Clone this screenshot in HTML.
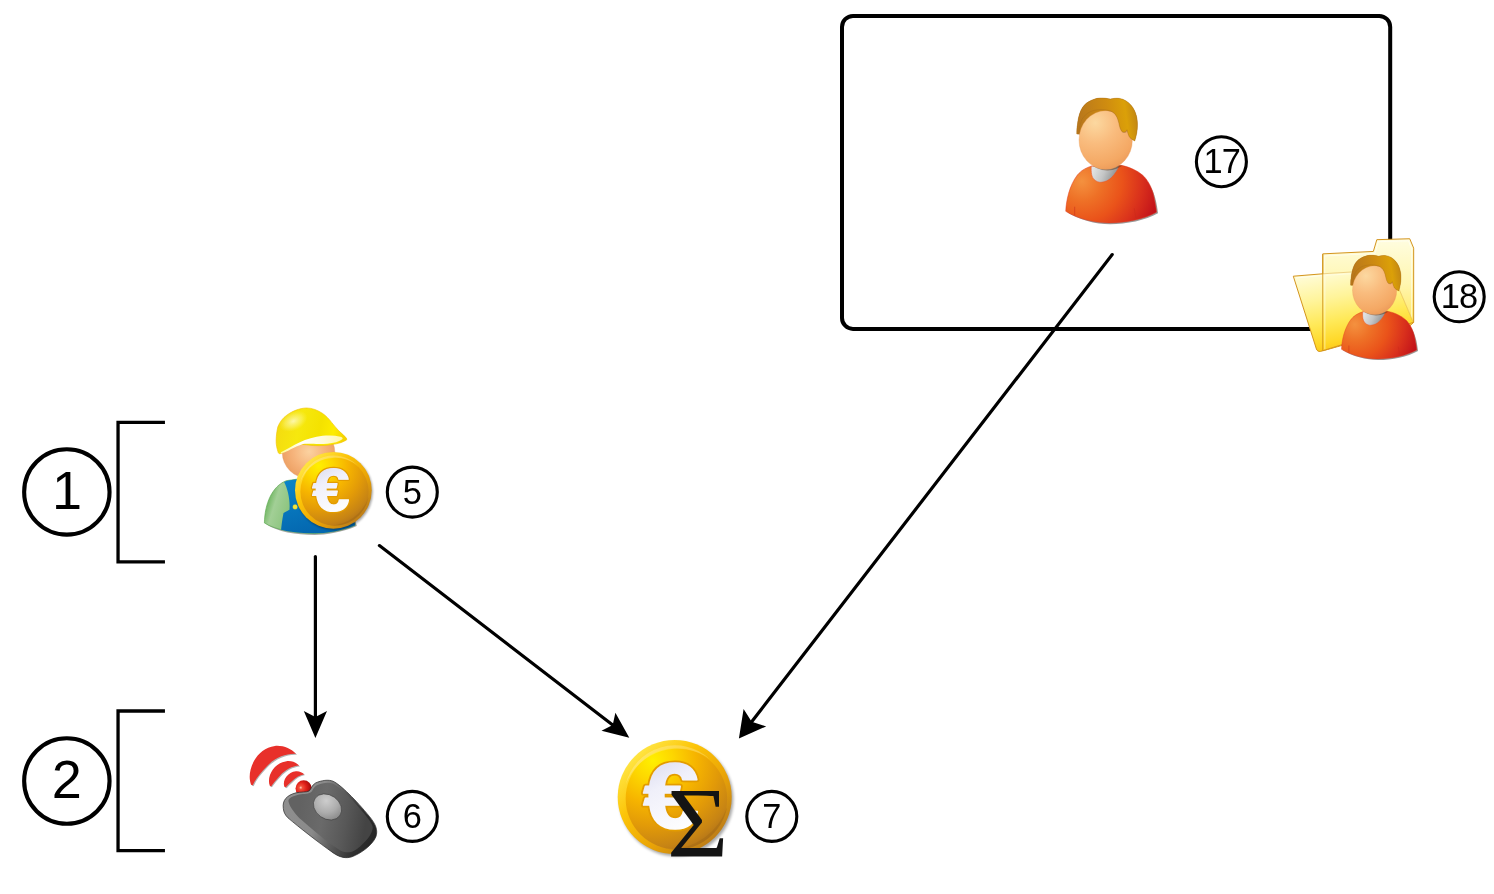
<!DOCTYPE html>
<html>
<head>
<meta charset="utf-8">
<title>Diagram</title>
<style>
html,body{margin:0;padding:0;background:#fff;}
body{width:1494px;height:894px;overflow:hidden;font-family:"Liberation Sans",sans-serif;}
svg{display:block;position:absolute;left:0;top:0;will-change:transform;}
.ln{fill:none;stroke:#000;stroke-width:3.2;stroke-linecap:round;}
.br{fill:none;stroke:#000;stroke-width:3.3;stroke-linecap:square;stroke-linejoin:miter;}
.cb{fill:none;stroke:#000;stroke-width:4.1;}
.cs{fill:none;stroke:#000;stroke-width:3.1;}
.tb{font-family:"Liberation Sans",sans-serif;font-size:54px;fill:#000;text-anchor:middle;}
.ts{font-family:"Liberation Sans",sans-serif;font-size:34.4px;fill:#000;text-anchor:middle;}
</style>
</head>
<body>
<svg width="1494" height="894" viewBox="0 0 1494 894">
<defs>
<filter id="sh2" x="-30%" y="-30%" width="160%" height="160%"><feGaussianBlur stdDeviation="5"/></filter>
<filter id="b3" x="-30%" y="-30%" width="160%" height="160%"><feGaussianBlur stdDeviation="3"/></filter>
<!-- user -->
<radialGradient id="uBody" gradientUnits="userSpaceOnUse" cx="190" cy="574" r="480">
<stop offset="0" stop-color="#f4913f"/><stop offset="0.25" stop-color="#ee7026"/><stop offset="0.5" stop-color="#ea531a"/><stop offset="0.75" stop-color="#d9301c"/><stop offset="1" stop-color="#bf0e1a"/></radialGradient>
<radialGradient id="uFace" gradientUnits="userSpaceOnUse" cx="270" cy="225" r="310">
<stop offset="0" stop-color="#fcd8a0"/><stop offset="0.4" stop-color="#f9bc7e"/><stop offset="0.8" stop-color="#f4a864"/><stop offset="1" stop-color="#ea9656"/></radialGradient>
<linearGradient id="uHair" gradientUnits="userSpaceOnUse" x1="170" y1="200" x2="520" y2="150">
<stop offset="0" stop-color="#b8771c"/><stop offset="0.5" stop-color="#cf8c10"/><stop offset="0.8" stop-color="#dba008"/><stop offset="1" stop-color="#c08414"/></linearGradient>
<linearGradient id="uCol" gradientUnits="userSpaceOnUse" x1="255" y1="500" x2="400" y2="560">
<stop offset="0" stop-color="#e2e4e4"/><stop offset="0.45" stop-color="#c4c6c6"/><stop offset="1" stop-color="#858787"/></linearGradient>
<clipPath id="uBodyClip"><path d="M94,753 C96,690 115,600 163,537 C190,505 220,492 246,484 L425,479 C480,490 530,515 563,548 C595,585 610,625 617,654 C627,700 633,735 635,758 C560,800 450,822 350,822 C260,822 160,795 94,753 Z"/></clipPath>
<clipPath id="uFaceClip"><ellipse cx="329" cy="323" rx="159" ry="175"/></clipPath>
<g id="user">
<path d="M104,760 C170,802 270,830 358,830 C458,830 568,808 644,765 C636,700 626,650 596,600 L300,600 Z" fill="#000" opacity="0.4" filter="url(#b3)"/>
<path d="M94,753 C96,690 115,600 163,537 C190,505 220,492 246,484 L425,479 C480,490 530,515 563,548 C595,585 610,625 617,654 C627,700 633,735 635,758 C560,800 450,822 350,822 C260,822 160,795 94,753 Z" fill="url(#uBody)" stroke="#e0381c" stroke-width="3"/>
<path d="M147,726 L147,778 M502,734 L512,793" stroke="#c62a18" stroke-width="3.5" fill="none" opacity="0.85"/>
<path d="M246,484 C244,520 248,548 262,562 C276,576 290,580 304,580 C330,578 350,568 366,552 C388,530 402,508 414,482 Z" fill="url(#uCol)" stroke="#e8502a" stroke-width="3"/>
<g clip-path="url(#uBodyClip)"><ellipse cx="342" cy="338" rx="160" ry="172" fill="#5a2a08" opacity="0.45" filter="url(#b3)"/></g>
<path d="M160,292 C160,262 161,250 163,243 C166,210 172,180 184,152 C196,126 212,110 232,99 C252,88 274,79 297,78 C322,77 342,80 360,84 C378,79 396,78 414,80 C440,84 464,98 483,120 C496,136 505,152 510,168 C518,190 522,215 521,243 C521,270 516,300 505,334 L440,300 L200,300 Z" fill="url(#uHair)"/>
<ellipse cx="332" cy="328" rx="159" ry="175" fill="url(#uFace)" stroke="#e89a58" stroke-width="2"/>
<path d="M160,292 C160,262 161,250 163,243 C166,210 172,180 184,152 C196,126 212,110 232,99 C252,88 274,79 297,78 C322,77 342,80 360,84 C378,79 396,78 414,80 C440,84 464,98 483,120 C496,136 505,152 510,168 C518,190 522,215 521,243 C521,270 516,300 505,334 L499,329 C485,322 476,314 472,307 C466,295 462,280 459,267 C455,274 451,279 446,280 C438,282 431,280 427,275 C420,265 416,254 414,243 C410,222 405,205 398,190 C390,174 378,161 361,155 C340,148 318,146 297,147 C277,148 259,151 243,158 C220,168 202,184 190,206 C180,228 174,258 171,291 Z" transform="translate(3,5)" fill="#7a4a10" opacity="0.3" filter="url(#b3)" clip-path="url(#uFaceClip)"/>
<path d="M160,292 C160,262 161,250 163,243 C166,210 172,180 184,152 C196,126 212,110 232,99 C252,88 274,79 297,78 C322,77 342,80 360,84 C378,79 396,78 414,80 C440,84 464,98 483,120 C496,136 505,152 510,168 C518,190 522,215 521,243 C521,270 516,300 505,334 L499,329 C485,322 476,314 472,307 C466,295 462,280 459,267 C455,274 451,279 446,280 C438,282 431,280 427,275 C420,265 416,254 414,243 C410,222 405,205 398,190 C390,174 378,161 361,155 C340,148 318,146 297,147 C277,148 259,151 243,158 C220,168 202,184 190,206 C180,228 174,258 171,291 Z" fill="url(#uHair)" stroke="#a86c18" stroke-width="2.5" stroke-linejoin="round"/>
</g>
<!-- folder -->
<linearGradient id="fBack" gradientUnits="userSpaceOnUse" x1="0" y1="60" x2="0" y2="800">
<stop offset="0" stop-color="#fffde0"/><stop offset="0.4" stop-color="#fff6b0"/><stop offset="0.75" stop-color="#ffe760"/><stop offset="1" stop-color="#fcd430"/></linearGradient>
<linearGradient id="fFront" gradientUnits="userSpaceOnUse" x1="300" y1="290" x2="400" y2="800">
<stop offset="0" stop-color="#fffbd0"/><stop offset="0.3" stop-color="#fff49a"/><stop offset="0.6" stop-color="#ffe958"/><stop offset="0.85" stop-color="#ffd828"/><stop offset="1" stop-color="#fbc412"/></linearGradient>
<!-- coin -->
<linearGradient id="cRim" gradientUnits="userSpaceOnUse" x1="-70" y1="-70" x2="70" y2="75">
<stop offset="0" stop-color="#ffe440"/><stop offset="0.3" stop-color="#fcc408"/><stop offset="0.65" stop-color="#eaa406"/><stop offset="1" stop-color="#bd7d18"/></linearGradient>
<radialGradient id="cFace" gradientUnits="userSpaceOnUse" cx="-38" cy="-64" r="180">
<stop offset="0" stop-color="#fff000"/><stop offset="0.2" stop-color="#fdd600"/><stop offset="0.42" stop-color="#f6b400"/><stop offset="0.64" stop-color="#e29a08"/><stop offset="0.84" stop-color="#c78414"/><stop offset="1" stop-color="#a66a1e"/></radialGradient>
<linearGradient id="cEuro" gradientUnits="userSpaceOnUse" x1="-40" y1="-60" x2="30" y2="60">
<stop offset="0" stop-color="#dcdcf0"/><stop offset="0.35" stop-color="#f0f0fa"/><stop offset="1" stop-color="#ffffff"/></linearGradient>
<g id="coin">
<circle cx="3" cy="4" r="100" fill="#000" opacity="0.35" filter="url(#b3)"/>
<circle cx="0" cy="0" r="100" fill="url(#cRim)"/>
<circle cx="3" cy="3" r="89" fill="url(#cFace)"/>
<path d="M-86,-22 A89,89 0 0 1 62,-66 A97,97 0 0 0 -86,-22 Z" fill="#fff" opacity="0.22"/>
<path d="M92,18 A92,92 0 0 1 -10,92 A110,110 0 0 0 92,18 Z" fill="#9a6410" opacity="0.35"/>
<g transform="translate(-6.5,0) scale(1.09,1)">
<text x="0" y="53.5" font-family="'Liberation Sans',sans-serif" font-weight="bold" font-size="161" text-anchor="middle" fill="#e39c00" stroke="#e39c00" stroke-width="9" stroke-linejoin="round">€</text>
<text x="0" y="53.5" font-family="'Liberation Sans',sans-serif" font-weight="bold" font-size="161" text-anchor="middle" fill="url(#cEuro)" stroke="url(#cEuro)" stroke-width="3" stroke-linejoin="round">€</text>
</g>
</g>
<!-- worker -->
<linearGradient id="wHelm" gradientUnits="userSpaceOnUse" x1="150" y1="150" x2="580" y2="250">
<stop offset="0" stop-color="#f4dc10"/><stop offset="0.3" stop-color="#f6e80e"/><stop offset="0.6" stop-color="#f4e200"/><stop offset="0.8" stop-color="#fdec00"/><stop offset="1" stop-color="#f3d000"/></linearGradient>
<radialGradient id="wFace" gradientUnits="userSpaceOnUse" cx="345" cy="330" r="200">
<stop offset="0" stop-color="#fbd2a0"/><stop offset="0.5" stop-color="#f6b47c"/><stop offset="1" stop-color="#ea9a5c"/></radialGradient>
<linearGradient id="wGreen" gradientUnits="userSpaceOnUse" x1="60" y1="650" x2="220" y2="700">
<stop offset="0" stop-color="#5fae50"/><stop offset="0.4" stop-color="#a2cf96"/><stop offset="1" stop-color="#8cc47e"/></linearGradient>
<linearGradient id="wBlue" gradientUnits="userSpaceOnUse" x1="200" y1="520" x2="300" y2="850">
<stop offset="0" stop-color="#0a84c8"/><stop offset="1" stop-color="#0468b0"/></linearGradient>
<clipPath id="wBodyClip"><path d="M60,785 C62,660 110,550 200,515 L380,490 C480,500 600,600 640,800 C560,835 450,852 380,852 C260,852 130,830 60,785 Z"/></clipPath>
<!-- remote -->
<linearGradient id="rBody" gradientUnits="userSpaceOnUse" x1="400" y1="560" x2="860" y2="640">
<stop offset="0" stop-color="#626262"/><stop offset="0.35" stop-color="#6a6a6a"/><stop offset="0.7" stop-color="#585858"/><stop offset="1" stop-color="#444444"/></linearGradient>
<linearGradient id="rSide" gradientUnits="userSpaceOnUse" x1="330" y1="560" x2="930" y2="720">
<stop offset="0" stop-color="#8e8e8e"/><stop offset="0.3" stop-color="#8a8a8a"/><stop offset="0.55" stop-color="#5a5a5a"/><stop offset="0.8" stop-color="#303030"/><stop offset="1" stop-color="#262626"/></linearGradient>
<radialGradient id="rBtn" gradientUnits="userSpaceOnUse" cx="570" cy="465" r="150">
<stop offset="0" stop-color="#cdcdcd"/><stop offset="0.55" stop-color="#adadad"/><stop offset="1" stop-color="#858585"/></radialGradient>
<radialGradient id="rLed" gradientUnits="userSpaceOnUse" cx="418" cy="362" r="75">
<stop offset="0" stop-color="#ffd0c0"/><stop offset="0.15" stop-color="#f2503a"/><stop offset="0.5" stop-color="#e0201a"/><stop offset="1" stop-color="#9c0808"/></radialGradient>
<radialGradient id="wHl" cx="0.5" cy="0.5" r="0.5"><stop offset="0" stop-color="#fffde0" stop-opacity="0.75"/><stop offset="0.6" stop-color="#fffbb0" stop-opacity="0.35"/><stop offset="1" stop-color="#fff880" stop-opacity="0"/></radialGradient>
<linearGradient id="wBrim" gradientUnits="userSpaceOnUse" x1="170" y1="300" x2="560" y2="240"><stop offset="0" stop-color="#fff9a0"/><stop offset="0.35" stop-color="#ffffff"/><stop offset="0.7" stop-color="#fffbd8"/><stop offset="1" stop-color="#fff6a8"/></linearGradient>
</defs>
<!-- frame -->
<rect x="842" y="15.9" width="548.2" height="313" rx="11" ry="11" fill="none" stroke="#000" stroke-width="4"/>

<!-- brackets -->
<path class="br" d="M163.3 422.3H118.05V561.9H163.3"/>
<path class="br" d="M163.3 711H118.05V850.6H163.3"/>

<!-- big circles -->
<circle class="cb" cx="66.85" cy="491.95" r="42.7"/>
<text class="tb" x="66.9" y="509">1</text>
<circle class="cb" cx="66.85" cy="781" r="42.7"/>
<text class="tb" x="66.7" y="798">2</text>

<!-- arrows -->
<g id="arrows">
<line class="ln" x1="315.4" y1="556.5" x2="315.4" y2="717.0"/>
<path d="M315.4 738.0 L303.8 711.0 L315.4 717.0 L327.0 711.0Z" fill="#000"/>
<line class="ln" x1="379.4" y1="545.6" x2="612.7" y2="725.0"/>
<path d="M629.3 737.8 L601.5 730.8 L612.7 725.0 L615.4 712.7Z" fill="#000"/>
<line class="ln" x1="1112.2" y1="254.6" x2="751.7" y2="721.8"/>
<path d="M738.9 738.4 L743.6 708.9 L751.7 721.8 L766.2 726.4Z" fill="#000"/>
</g>


<!-- user 17 -->
<g transform="translate(1050,85) scale(0.16774)"><use href="#user"/></g>
<!-- folder 18 -->
<g transform="translate(1285,230) scale(0.15102)">
<path d="M250,800 L250,158 L585,142 L608,64 L826,58 L852,120 L852,612 L820,640 L250,800 Z" fill="url(#fBack)" stroke="#d2921a" stroke-width="6.5" stroke-linejoin="round"/>
<path d="M263,172 L596,156 L618,77 L818,72 L838,124 L838,600 L263,780 Z" fill="none" stroke="#ffffff" stroke-width="5" opacity="0.7" stroke-linejoin="round"/>
<path d="M55,306 L250,290 L700,262 L850,612 L235,804 C222,806 212,800 208,788 Z" fill="#fffbe2"/>
<path d="M55,306 L250,290 L700,262 L850,612 L235,804 C222,806 212,800 208,788 Z" fill="url(#fFront)"/>
<path d="M250,290 L700,262 L850,612" fill="none" stroke="#d9a030" stroke-width="4" opacity="0.75" stroke-linejoin="round"/>
<path d="M250,290 L55,306 L208,788 C212,800 222,806 235,804 L850,612" fill="none" stroke="#d2921a" stroke-width="6.5" stroke-linejoin="round" stroke-linecap="round"/>
<path d="M250,160 L250,800" stroke="#d2921a" stroke-width="6" fill="none"/>
<path d="M264,300 L264,790" stroke="#ffffff" stroke-width="6" fill="none" opacity="0.55"/>
<path d="M72,317 L244,302" stroke="#ffffff" stroke-width="5" fill="none" opacity="0.8"/>
<path d="M270,300 L690,274" stroke="#ffffff" stroke-width="4" fill="none" opacity="0.6"/>
</g>
<g transform="translate(1328.4,244.5) scale(0.1392)"><use href="#user"/></g>


<!-- worker 5 -->
<g transform="translate(255,400) scale(0.15662)">
<path d="M75,795 C62,660 110,550 200,515 L380,490 C480,500 600,600 650,805 C560,845 450,862 380,862 C260,862 140,840 75,795 Z" fill="#000" opacity="0.35" filter="url(#sh2)"/>
<path d="M60,785 C62,660 110,550 200,515 L380,490 C480,500 600,600 640,800 C560,835 450,852 380,852 C260,852 130,830 60,785 Z" fill="url(#wGreen)" stroke="#58a84c" stroke-width="4"/>
<g clip-path="url(#wBodyClip)">
<path d="M185,522 L280,490 L700,480 L700,900 L160,900 C165,840 170,780 182,722 L220,700 C225,640 210,570 185,522 Z" fill="url(#wBlue)"/>
</g>
<circle cx="256" cy="683" r="15" fill="#f2e43c" stroke="#d8c020" stroke-width="2"/>
<ellipse cx="342" cy="335" rx="168" ry="165" fill="url(#wFace)" stroke="#e09060" stroke-width="2"/>
<path d="M149,337 C140,310 134,285 135,257 C136,225 140,195 146,171 C158,140 178,115 203,97 C240,70 285,52 329,51 C365,51 400,65 432,86 C455,102 473,122 489,143 C505,163 520,180 535,197 C552,212 570,227 583,243 C590,252 585,258 575,260 C558,270 538,276 518,280 C470,290 420,293 375,291 C345,290 312,280 283,286 C245,298 210,320 175,337 C168,341 162,343 158,343 C153,342 150,340 149,337 Z" fill="url(#wHelm)" stroke="#f2c200" stroke-width="4" stroke-linejoin="round"/>
<ellipse cx="245" cy="135" rx="95" ry="60" transform="rotate(-25 245 135)" fill="url(#wHl)"/>
<path d="M165,334 C200,318 245,290 283,272 C330,250 380,235 432,229 C470,225 510,226 546,234 C560,238 562,246 558,249 C548,258 535,264 518,269 C470,280 420,283 375,280 C350,279 330,278 318,280 C290,284 250,305 215,322 C195,332 175,340 165,340 Z" fill="url(#wBrim)"/>
</g>
<g transform="translate(333.35,490.3) scale(0.3835)"><use href="#coin"/></g>

<!-- coin 7 -->
<g transform="translate(674.7,797) scale(0.57)"><use href="#coin"/></g>
<text x="0" y="856.3" font-family="'Liberation Serif',serif" font-size="100.5" text-anchor="middle" fill="#141414" transform="translate(697.6,0) scale(1.05,1)">Σ</text>


<!-- remote 6 -->
<g transform="translate(240,735) scale(0.14535)">
<g fill="#000" opacity="0.3" filter="url(#b3)" transform="translate(6,6)">
<path d="M76,342 C40,250 110,90 240,75 C300,70 350,95 387,130 C320,125 240,155 185,215 C140,262 105,305 88,346 Z"/>
<path d="M205,350 C180,280 240,190 320,180 C360,176 385,190 407,210 C360,212 310,240 275,280 C245,310 228,335 214,354 Z"/>
<path d="M305,356 C290,310 330,255 385,250 C410,248 425,258 442,270 C410,276 380,295 355,320 C335,338 324,350 314,360 Z"/>
</g>
<g fill="#e8302a">
<path d="M76,342 C40,250 110,90 240,75 C300,70 350,95 387,130 C320,125 240,155 185,215 C140,262 105,305 88,346 Z"/>
<path d="M205,350 C180,280 240,190 320,180 C360,176 385,190 407,210 C360,212 310,240 275,280 C245,310 228,335 214,354 Z"/>
<path d="M305,356 C290,310 330,255 385,250 C410,248 425,258 442,270 C410,276 380,295 355,320 C335,338 324,350 314,360 Z"/>
</g>
<path d="M320,480 C330,520 360,580 640,812 C700,856 750,848 800,818 C860,778 915,730 940,675 L900,700 L700,800 Z" fill="#000" opacity="0.4" filter="url(#b3)"/>
<circle cx="438" cy="368" r="56" fill="url(#rLed)"/>
<path d="M298,505 C290,450 320,415 385,398 C420,390 455,395 475,385 C490,375 492,345 520,330 C560,312 610,305 640,318 C690,340 800,450 890,560 C935,615 950,655 935,700 C910,760 830,815 770,838 C730,850 690,845 640,810 C540,740 400,630 330,570 C310,550 300,530 298,505 Z" fill="url(#rSide)" stroke="#2c2c2c" stroke-width="5"/>
<path d="M335,462 C328,440 345,425 395,412 C430,404 465,408 485,396 C500,386 505,358 530,345 C565,328 610,322 638,334 C685,355 790,460 870,560 C900,600 915,620 913,640 C910,680 870,730 826,767 C800,790 775,805 752,807 C730,808 712,805 694,796 C650,770 600,735 570,709 C520,668 470,625 424,585 C385,550 345,500 335,462 Z" fill="url(#rBody)"/>
<ellipse cx="602" cy="495" rx="104" ry="82" transform="rotate(35 602 495)" fill="url(#rBtn)" stroke="#3a3a3a" stroke-width="4"/>
</g>

<!-- small circles -->
<circle class="cs" cx="412.3" cy="492.1" r="25.0"/>
<text class="ts" x="412.2" y="503.6">5</text>
<circle class="cs" cx="412.3" cy="816.4" r="25.0"/>
<text class="ts" x="412.4" y="828">6</text>
<circle class="cs" cx="771.8" cy="816.4" r="25.0"/>
<text class="ts" x="771.8" y="828">7</text>
<circle class="cs" cx="1221.4" cy="161.7" r="25.0"/>
<text class="ts" x="1221.7" y="172.9" letter-spacing="-1">17</text>
<circle class="cs" cx="1459.2" cy="296.8" r="25.0"/>
<text class="ts" x="1459" y="308.2" letter-spacing="-1">18</text>
</svg>
</body>
</html>
